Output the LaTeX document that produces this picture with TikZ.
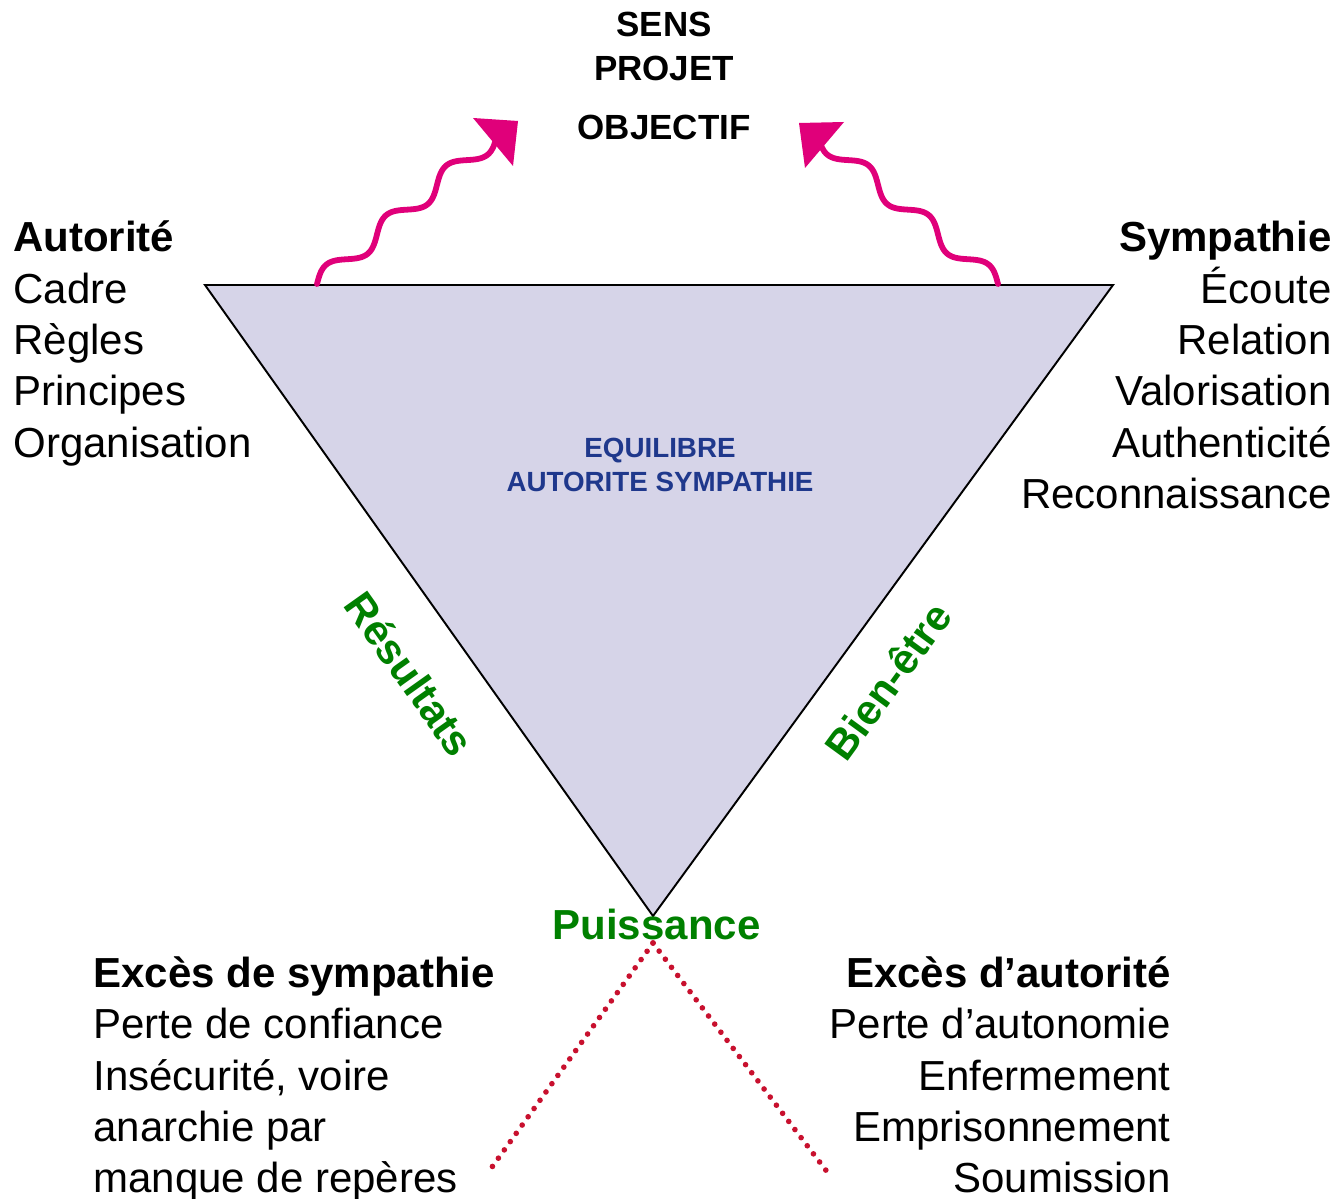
\documentclass[tikz,border=0pt]{standalone}
\usepackage{fontspec}
\setmainfont{Liberation Sans}
\definecolor{wavepink}{RGB}{224,0,122}
\definecolor{labgreen}{RGB}{0,128,0}
\definecolor{midblue}{RGB}{31,56,140}
\definecolor{dotred}{RGB}{200,16,46}
\definecolor{trifill}{RGB}{214,212,232}
\begin{document}
\begin{tikzpicture}[x=0.02cm,y=-0.02cm,
  listtxt/.style={inner sep=0pt, font=\fontsize{23.9}{29}\selectfont},
  listhead/.style={inner sep=0pt, font=\fontsize{23.9}{29}\selectfont\bfseries},
  toptxt/.style={inner sep=0pt, font=\fontsize{19.9}{24}\selectfont\bfseries},
  midtxt/.style={inner sep=0pt, text=midblue, font=\fontsize{15.8}{19}\selectfont\bfseries},
  greentxt/.style={inner sep=0pt, text=labgreen, font=\fontsize{23.9}{29}\selectfont\bfseries},
  wavepath/.style={draw=wavepink, line width=3.3pt, line cap=round},
  wavehead/.style={fill=wavepink, draw=none},
  dotline/.style={draw=dotred, line width=3.2pt, line cap=round, dash pattern=on 0pt off 5.8pt}]
\useasboundingbox[fill=white] (0,0) rectangle (1341,1199);

% triangle
\coordinate (tA) at (205,285);
\coordinate (tB) at (1113,285);
\coordinate (tC) at (653,916);
\path[fill=trifill, draw=black, line width=1.1pt, line join=miter] (tA) -- (tB) -- (tC) -- cycle;

% centre text
\node[midtxt, anchor=base] (eq1) at (660,457) {EQUILIBRE};
\node[midtxt, anchor=base] (eq2) at (660,491) {AUTORITE SYMPATHIE};

% top words
\node[toptxt, anchor=base] (sens) at (664,36.5) {SENS};
\node[toptxt, anchor=base] (projet) at (664,80.5) {PROJET};
\node[toptxt, anchor=base] (objectif) at (664,139.5) {OBJECTIF};

% wavy arrows
\coordinate (wl) at (317,284);
\coordinate (wr) at (998,284);
\draw[wavepath] plot[domain=0:229, samples=160, smooth, variable=\t]
  ({317+0.771*\t-5.733*sin(4.6272*\t)}, {284-0.637*\t-6.939*sin(4.6272*\t)});
\fill[wavehead] (473,118) -- (518,121) -- (513,166) -- cycle;
\draw[wavepath] plot[domain=0:229, samples=160, smooth, variable=\t]
  ({998-0.771*\t+5.733*sin(4.6272*\t)}, {284-0.637*\t-6.939*sin(4.6272*\t)});
\fill[wavehead] (844,122) -- (799,123) -- (805,168) -- cycle;

% left list
\node[listhead, anchor=base west] (aut) at (13,252) {Autorité};
\node[listtxt, anchor=base west] (l1) at (13,303) {Cadre};
\node[listtxt, anchor=base west] (l2) at (13,354) {Règles};
\node[listtxt, anchor=base west] (l3) at (13,405.5) {Principes};
\node[listtxt, anchor=base west] (l4) at (13,457) {Organisation};

% right list
\node[listhead, anchor=base east] (sym) at (1332,252) {Sympathie};
\node[listtxt, anchor=base east] (r1) at (1332,303) {Écoute};
\node[listtxt, anchor=base east] (r2) at (1332,354.5) {Relation};
\node[listtxt, anchor=base east] (r3) at (1332,405.5) {Valorisation};
\node[listtxt, anchor=base east] (r4) at (1332,457) {Authenticité};
\node[listtxt, anchor=base east] (r5) at (1332,508) {Reconnaissance};

% side labels
\node[greentxt, rotate=-54.6] (res) at (410,674) {Résultats};
\node[greentxt, rotate=53.9] (bien) at (888,681) {Bien-être};

% dotted lines
\coordinate (dtop) at (653,943);
\coordinate (dl) at (487,1174);
\coordinate (dr) at (828,1173);
\draw[dotline] (dtop) -- (dl);
\draw[dotline] (dtop) -- (dr);

\node[greentxt, anchor=base] (puis) at (656.5,939) {Puissance};

% bottom left
\node[listhead, anchor=base west] (exs) at (93,987) {Excès de sympathie};
\node[listtxt, anchor=base west] (bl1) at (93,1038) {Perte de confiance};
\node[listtxt, anchor=base west] (bl2) at (93,1090) {Insécurité, voire};
\node[listtxt, anchor=base west] (bl3) at (93,1141.5) {anarchie par};
\node[listtxt, anchor=base west] (bl4) at (93,1192) {manque de repères};

% bottom right
\node[listhead, anchor=base east] (exa) at (1171,987) {Excès d’autorité};
\node[listtxt, anchor=base east] (br1) at (1171,1038) {Perte d’autonomie};
\node[listtxt, anchor=base east] (br2) at (1171,1090) {Enfermement};
\node[listtxt, anchor=base east] (br3) at (1171,1141.5) {Emprisonnement};
\node[listtxt, anchor=base east] (br4) at (1171,1192) {Soumission};
\end{tikzpicture}
\end{document}
